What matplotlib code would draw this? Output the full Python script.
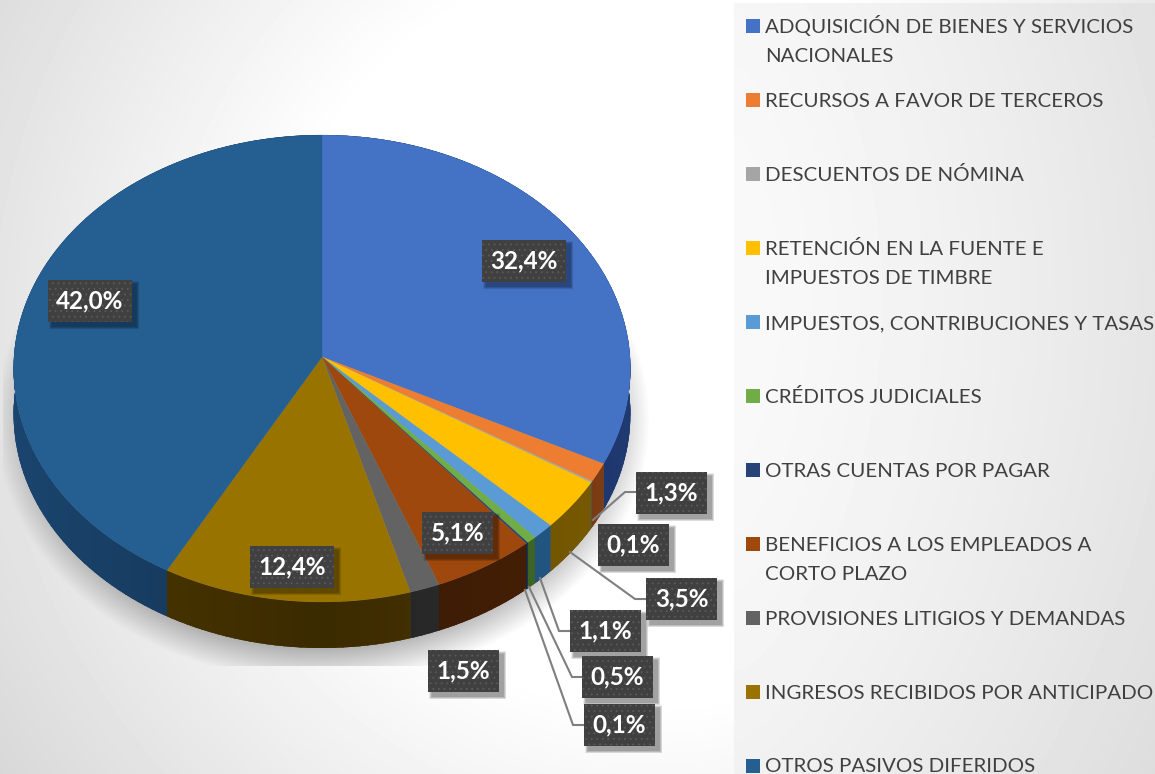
import numpy as np
import matplotlib
matplotlib.use('Agg')
import matplotlib.pyplot as plt
from matplotlib.patches import Rectangle

categorias = ['ADQUISICIÓN DE BIENES Y SERVICIOS\nNACIONALES', 'RECURSOS A FAVOR DE TERCEROS',
              'DESCUENTOS DE NÓMINA', 'RETENCIÓN EN LA FUENTE E\nIMPUESTOS DE TIMBRE',
              'IMPUESTOS, CONTRIBUCIONES Y TASAS', 'CRÉDITOS JUDICIALES', 'OTRAS CUENTAS POR PAGAR',
              'BENEFICIOS A LOS EMPLEADOS A\nCORTO PLAZO', 'PROVISIONES LITIGIOS Y DEMANDAS',
              'INGRESOS RECIBIDOS POR ANTICIPADO', 'OTROS PASIVOS DIFERIDOS']
valores = [32.4, 1.3, 0.1, 3.5, 1.1, 0.5, 0.1, 5.1, 1.5, 12.4, 42.0]
etiquetas = ['32,4%', '1,3%', '0,1%', '3,5%', '1,1%', '0,5%', '0,1%', '5,1%', '1,5%', '12,4%', '42,0%']
colores = ['#4472C4', '#ED7D31', '#A5A5A5', '#FFC000', '#5B9BD5', '#70AD47',
           '#264478', '#9E480E', '#636363', '#997300', '#255E91']
colores_lado = ['#1B3263', '#6E3512', '#4A4A4A', '#6B5000', '#1F5078', '#3A5F22',
                '#14264A', '#401D05', '#2A2A2A', '#453200', '#173C60']

# posicion (izq, arriba, ancho) de cada etiqueta en pixeles
cajas = [(482, 240, 84), (636, 472, 71), (598, 524, 71), (646, 578, 71), (570, 610, 71), (582, 656, 71),
         (584, 704, 71), (422, 512, 71), (428, 650, 71), (250, 546, 84), (48, 280, 84)]
# lineas guia: indice de la etiqueta -> puntos
guias = {1: [(593, 520), (625, 492), (636, 492)],
         3: [(570, 552), (635, 599), (646, 599)],
         4: [(540, 578), (559, 631), (570, 631)],
         5: [(529, 587), (572, 677), (582, 677)],
         6: [(525, 590), (573, 725), (584, 725)]}

W, H = 1155, 774
CX, CY = 322, 357      # apice del pastel
RX, B, K = 308, 232.9, 0.0493   # perspectiva
PROF = 46              # grosor del pastel


def proyectar(ang):
    # angulo en grados desde arriba, sentido horario
    u = np.sin(np.radians(ang))
    v = np.cos(np.radians(ang))
    d = 1 + K * v
    return CX + RX * u / d, CY - B * v / d


def fondo():
    yy, xx = np.mgrid[0:H, 0:W]
    # gradiente del area del grafico
    d = np.sqrt((xx - 650) ** 2 + (yy - 330) ** 2)
    img = 255 - np.clip(d - 370, 0, None) * 39 / 416
    # sombra del pastel, cortada abajo y a la izquierda
    f = np.sqrt(((xx - 322) / 328) ** 2 + ((yy - 420) / 262) ** 2)
    a = 0.28 * np.clip((1.0 - f) / 0.13, 0, 1)
    a[(yy > 665) | (xx < 3)] = 0
    img = img * (1 - a)
    # panel de la leyenda
    t = np.clip((xx - 740) / 415, 0, 1) ** 1.3
    panel = 249 - 20 * t - 8 * (np.abs(yy - 300) / 470) ** 2
    mask = (xx >= 734) & (yy >= 3)
    img[mask] = panel[mask]
    return img


fig = plt.figure(figsize=(W / 100, H / 100), dpi=100)
ax = fig.add_axes([0, 0, 1, 1])
ax.imshow(fondo(), cmap='gray', vmin=0, vmax=255, extent=(0, W, H, 0), aspect='auto', zorder=0)
ax.set_xlim(0, W)
ax.set_ylim(H, 0)
ax.axis('off')

limites = np.concatenate([[0], np.cumsum(valores)]) / np.sum(valores) * 360

# lados del pastel, con un poco de degradado
for i in range(len(valores)):
    ini, fin = limites[i], limites[i + 1]
    base = np.array(matplotlib.colors.to_rgb(colores_lado[i]))
    x, y = proyectar(np.linspace(ini, fin, 200))
    lado = ax.fill(np.r_[x, x[::-1]], np.r_[y, y[::-1] + PROF], color=base, lw=0, zorder=2)[0]
    pasos = np.append(np.arange(ini, fin, 1.5), fin)
    for a0, a1 in zip(pasos[:-1], pasos[1:]):
        x, y = proyectar(np.linspace(a0, a1 + 0.3, 5))
        luz = 1 + 0.30 * (abs(np.sin(np.radians(a0))) - 0.5)
        seg = ax.fill(np.r_[x, x[::-1]], np.r_[y, y[::-1] + PROF], color=np.clip(base * luz, 0, 1),
                      lw=0, antialiased=False, zorder=2)[0]
        seg.set_clip_path(lado)

# cara superior
for i in range(len(valores)):
    x, y = proyectar(np.linspace(limites[i], limites[i + 1], 200))
    ax.fill(np.r_[CX, x], np.r_[CY, y], color=colores[i], lw=0.2, zorder=3)

# lineas guia
for i, pts in guias.items():
    px, py = zip(*pts)
    ax.plot(px, py, color='#7F7F7F', lw=1.5, zorder=4, solid_joinstyle='miter')

# etiquetas de datos
plt.rcParams['hatch.linewidth'] = 0.6
ALTO = 42
for txt, (x0, y0, ancho) in zip(etiquetas, cajas):
    for e in range(6, 0, -1):
        ax.add_patch(Rectangle((x0 + 4 - e / 2, y0 + 4 - e / 2), ancho + e, ALTO + e, facecolor='black',
                               alpha=0.07, lw=0, zorder=5))
    ax.add_patch(Rectangle((x0, y0), ancho, ALTO, facecolor='#404040', edgecolor='#5A5A5A', hatch='...',
                           lw=0, zorder=6))
    ax.text(x0 + ancho / 2, y0 + ALTO / 2, txt, color='white', fontsize=17.5, fontweight='bold',
            family='Lato', ha='center', va='center', zorder=7)

# leyenda
for i, cat in enumerate(categorias):
    yc = 26 + 74 * i
    ax.add_patch(Rectangle((746, yc - 7), 14, 14, facecolor=colores[i], lw=0, zorder=4))
    for j, linea in enumerate(cat.split('\n')):
        ax.text(765, min(yc + 7 + 29 * j, 772), linea, color='#404040', fontsize=14.75, family='Lato',
                ha='left', va='baseline', zorder=4)

fig.savefig('out.png', dpi=100)
